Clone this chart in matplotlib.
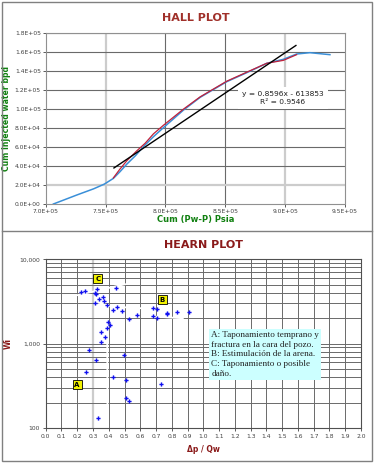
import numpy as np
import matplotlib
matplotlib.use('Agg')
from matplotlib import pyplot as plt
from matplotlib.ticker import FixedLocator, NullLocator

# Hall plot data
cum_dp = [7.064e5, 7.26e5, 7.40e5, 7.49e5, 7.565e5, 7.62e5, 7.677e5, 7.75e5, 7.816e5,
          7.90e5, 7.983e5, 8.15e5, 8.29e5, 8.512e5, 8.679e5, 8.846e5, 8.985e5,
          9.096e5, 9.207e5, 9.374e5]
cum_wi = [0, 9.5e3, 1.6e4, 2.1e4, 2.7e4, 3.4e4, 4.2e4, 5.1e4, 6.05e4,
          7.1e4, 8.05e4, 9.9e4, 1.125e5, 1.29e5, 1.385e5, 1.484e5, 1.526e5,
          1.582e5, 1.596e5, 1.575e5]
poly_x = [7.565e5, 7.621e5, 7.677e5, 7.76e5, 7.83e5, 7.90e5, 7.983e5, 8.15e5, 8.29e5,
          8.512e5, 8.679e5, 8.846e5, 8.985e5, 9.096e5]
poly_y = [2.75e4, 3.7e4, 4.55e4, 5.6e4, 6.4e4, 7.4e4, 8.3e4, 1.0e5, 1.13e5,
          1.295e5, 1.39e5, 1.484e5, 1.515e5, 1.575e5]
fit_x = [7.57e5, 9.09e5]
fit_y = [3.8e4, 1.672e5]
fit_text = 'y = 0.8596x - 613853\nR² = 0.9546'

# Hearn plot data
dp_qw = [0.224, 0.247, 0.326, 0.446, 0.313, 0.319, 0.340, 0.366, 0.370, 0.313,
         0.389, 0.452, 0.425, 0.482, 0.526, 0.581, 0.679, 0.704, 0.679, 0.708,
         0.772, 0.772, 0.833, 0.909, 0.393, 0.406, 0.387, 0.349, 0.374, 0.351,
         0.275, 0.497, 0.321, 0.258, 0.425, 0.512, 0.734, 0.507, 0.531, 0.330]
wi = [4140, 4215, 4490, 4570, 3950, 3850, 3420, 3610, 3240, 3000,
      2850, 2700, 2480, 2440, 1950, 2170, 2650, 2580, 2110, 2030,
      2310, 2250, 2390, 2370, 1820, 1680, 1530, 1360, 1210, 1047,
      849, 741, 640, 461, 399, 374, 330, 225, 207, 130]
tags = ['A', 'B', 'C']
tag_x = [0.199, 0.740, 0.330]
tag_y = [327, 3325, 5900]
note = ('A: Taponamiento temprano y\nfractura en la cara del pozo.\n'
        'B: Estimulación de la arena.\nC: Taponamiento o posible\ndaño.')

fig = plt.figure(figsize=(3.75, 4.63), dpi=100)
fig.patch.set_facecolor('white')

# panel borders
fig.add_artist(plt.Rectangle((0.005, 0.004), 0.988, 0.992, transform=fig.transFigure,
                             fill=False, ec='#808080', lw=1.0))
fig.add_artist(plt.Line2D([0.005, 0.993], [1 - 231 / 463, 1 - 231 / 463],
                          transform=fig.transFigure, color='#808080', lw=1.0))

tick_col = '#404040'
dark = '#6a6a6a'
light = '#cccccc'

# ---- HALL PLOT ----
ax1 = fig.add_axes([0.1219, 0.5594, 0.7981, 0.3686])
for v in [8.0e5, 8.5e5]:
    ax1.axvline(v, color=dark, lw=0.8, zorder=1)
for v in [7.5e5, 9.0e5]:
    ax1.axvline(v, color=light, lw=1.6, zorder=1)
for h in np.arange(4e4, 1.81e5, 2e4):
    ax1.axhline(h, color=dark, lw=0.8, zorder=1)
ax1.axhline(2e4, color=light, lw=1.6, zorder=1)

ax1.plot(cum_dp, cum_wi, color='#3a8fd8', lw=1.1, zorder=3)
ax1.plot(poly_x, poly_y, color='#c0203a', lw=0.9, zorder=4)
ax1.plot(fit_x, fit_y, color='black', lw=1.0, zorder=5)
ax1.text(8.98e5, 1.115e5, fit_text, ha='center', va='center', fontsize=5.4,
         color='#202020', linespacing=1.35, zorder=6,
         bbox=dict(boxstyle='square,pad=0.55', fc='white', ec='none'))

ax1.set_xlim(7.0e5, 9.5e5)
ax1.set_ylim(0, 1.8e5)
ax1.set_xticks(np.arange(7.0e5, 9.51e5, 0.5e5))
ax1.set_yticks(np.arange(0, 1.81e5, 2e4))
ax1.set_xticklabels(['%.1fE+05' % (v / 1e5) for v in np.arange(7.0e5, 9.51e5, 0.5e5)])
ylabs = ['0.0E+00'] + ['%.1fE+04' % (v / 1e4) for v in np.arange(2e4, 1e5, 2e4)] + \
        ['%.1fE+05' % (v / 1e5) for v in np.arange(1e5, 1.81e5, 2e4)]
ax1.set_yticklabels(ylabs)
ax1.tick_params(labelsize=4.3, colors=tick_col, length=2, width=0.6, pad=1.5)
for s in ax1.spines.values():
    s.set_color('#909090')
    s.set_linewidth(0.8)
ax1.spines['right'].set_linestyle((0, (2, 1)))
ax1.spines['bottom'].set_linestyle((0, (2, 1)))
ax1.set_title('HALL PLOT', fontsize=8, fontweight='bold', color='#a0302a', pad=9)
ax1.set_xlabel('Cum (Pw-P) Psia', fontsize=6, fontweight='bold', color='#108010', labelpad=1)
ax1.set_ylabel('Cum injected water bpd', fontsize=5.6, fontweight='bold', color='#108010')
ax1.yaxis.set_label_coords(-0.117, 0.5)

# ---- HEARN PLOT ----
ax2 = fig.add_axes([0.1219, 0.0756, 0.8408, 0.3644])
ax2.set_yscale('log')
ax2.set_xlim(0, 2.0)
ax2.set_ylim(100, 10000)
xt = np.round(np.arange(0, 2.01, 0.1), 1)
for v in xt[1:-1]:
    if abs(v - 0.3) < 1e-6:
        ax2.axvline(v, color=light, lw=1.6, zorder=1)
    else:
        ax2.axvline(v, color=dark, lw=0.7, zorder=1)
for dec in [100, 1000]:
    for m in range(2, 11):
        ax2.axhline(dec * m, color=dark, lw=0.7, zorder=1)

# white annotation strokes
ax2.plot([0.197, 0.503], [3740, 5060], color='white', lw=1.3, zorder=2)
ax2.plot([0.313, 0.42, 0.62], [3150, 2750, 2620], color='white', lw=1.3, zorder=2)
ax2.plot([0.62, 0.87], [2130, 2000], color='white', lw=1.3, zorder=2)
ax2.plot([0.39, 0.392], [1450, 100], color='white', lw=1.3, zorder=2)

ax2.plot(dp_qw, wi, linestyle='none', marker='P', markersize=3.0,
         color='#1010f0', markeredgewidth=0, zorder=4)

for t, x, y in zip(tags, tag_x, tag_y):
    ax2.text(x, y, t, ha='center', va='center', fontsize=5, fontweight='bold', zorder=6,
             bbox=dict(boxstyle='square,pad=0.25', fc='#f2f200', ec='black', lw=0.6))

ax2.text(1.0505, 1420, note, ha='left', va='top', fontsize=6.6, family='Liberation Serif',
         color='#202020', linespacing=1.3, zorder=6,
         bbox=dict(boxstyle='square,pad=0.2', fc='#ccffff', ec='none'))

ax2.xaxis.set_major_locator(FixedLocator(xt))
ax2.set_xticklabels(['%.1f' % v for v in xt])
ax2.yaxis.set_major_locator(FixedLocator([100, 1000, 10000]))
ax2.yaxis.set_minor_locator(NullLocator())
ax2.set_yticklabels(['100', '1,000', '10,000'])
ax2.tick_params(labelsize=4.3, colors=tick_col, length=2, width=0.6, pad=2)
for s in ax2.spines.values():
    s.set_color('#505050')
    s.set_linewidth(0.8)
ax2.set_title('HEARN PLOT', fontsize=8, fontweight='bold', color='#8a1a1a', pad=8)
ax2.set_xlabel('Δp / Qw', fontsize=5.5, fontweight='bold', color='#8a1a1a', labelpad=5)
ax2.set_ylabel('Wi', fontsize=5.5, fontweight='bold', color='#8a1a1a')
ax2.yaxis.set_label_coords(-0.105, 0.5)

fig.savefig('out.png', dpi=100)
